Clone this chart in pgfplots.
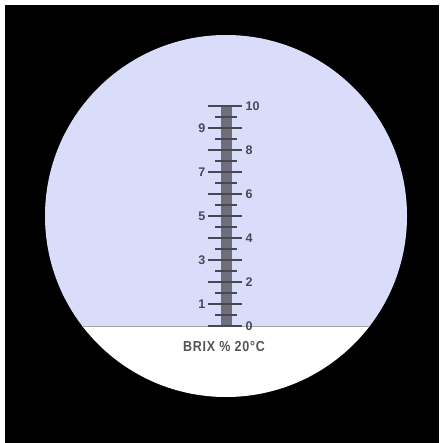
\documentclass[border=0pt]{standalone}
\usepackage{pgfplots}
\pgfplotsset{compat=1.18}
\usepackage{fontspec}
\setmainfont{Liberation Sans}
\definecolor{field}{RGB}{218,221,250}
\definecolor{scalegray}{RGB}{110,112,124}
\definecolor{tickgray}{RGB}{72,72,82}
\definecolor{txtgray}{RGB}{85,85,90}
\begin{document}
\begin{tikzpicture}
% background in pixel coordinates (1 unit = 1pt, y downwards)
\begin{axis}[
    scale only axis, width=439pt, height=443pt,
    xmin=0, xmax=439, ymin=0, ymax=443, y dir=reverse,
    hide axis, clip=false,
]
\fill[white] (axis cs:0,0) rectangle (axis cs:439,443);
\fill[black] (axis cs:5,5) rectangle (axis cs:439,443);
\begin{scope}
  \clip (axis cs:226,216) circle[radius=181pt];
  \fill[field] (axis cs:40,30) rectangle (axis cs:415,326);
  \fill[white] (axis cs:40,326) rectangle (axis cs:415,400);
  \draw[gray!70, line width=0.8pt] (axis cs:40,326) -- (axis cs:415,326);
\end{scope}
\node[txtgray, xscale=0.86, font=\bfseries\fontsize{14.5}{16}\selectfont\addfontfeature{LetterSpace=6}] at (axis cs:224,347) {BRIX \% 20°C};
\end{axis}
% the scale itself: 0 to 10 % Brix
\begin{axis}[
    at={(206pt,117pt)}, anchor=south west,
    scale only axis, width=40pt, height=220pt,
    xmin=-20, xmax=20, ymin=0, ymax=10,
    hide axis, clip=false,
]
\fill[scalegray] (axis cs:-5,0) rectangle (axis cs:6,10);
% fine divisions, 0.1
\addplot[only marks, mark=-, mark size=5.5pt, mark options={line width=0.5pt, color=tickgray!80}]
  table[x=x, y=v] {
x v
0.5 0.1
0.5 0.2
0.5 0.3
0.5 0.4
0.5 0.6
0.5 0.7
0.5 0.8
0.5 0.9
0.5 1.1
0.5 1.2
0.5 1.3
0.5 1.4
0.5 1.6
0.5 1.7
0.5 1.8
0.5 1.9
0.5 2.1
0.5 2.2
0.5 2.3
0.5 2.4
0.5 2.6
0.5 2.7
0.5 2.8
0.5 2.9
0.5 3.1
0.5 3.2
0.5 3.3
0.5 3.4
0.5 3.6
0.5 3.7
0.5 3.8
0.5 3.9
0.5 4.1
0.5 4.2
0.5 4.3
0.5 4.4
0.5 4.6
0.5 4.7
0.5 4.8
0.5 4.9
0.5 5.1
0.5 5.2
0.5 5.3
0.5 5.4
0.5 5.6
0.5 5.7
0.5 5.8
0.5 5.9
0.5 6.1
0.5 6.2
0.5 6.3
0.5 6.4
0.5 6.6
0.5 6.7
0.5 6.8
0.5 6.9
0.5 7.1
0.5 7.2
0.5 7.3
0.5 7.4
0.5 7.6
0.5 7.7
0.5 7.8
0.5 7.9
0.5 8.1
0.5 8.2
0.5 8.3
0.5 8.4
0.5 8.6
0.5 8.7
0.5 8.8
0.5 8.9
0.5 9.1
0.5 9.2
0.5 9.3
0.5 9.4
0.5 9.6
0.5 9.7
0.5 9.8
0.5 9.9
};
% half divisions
\addplot[only marks, mark=-, mark size=11pt, mark options={line width=1.3pt, color=tickgray}]
  coordinates {(0,0.5) (0,1.5) (0,2.5) (0,3.5) (0,4.5) (0,5.5) (0,6.5) (0,7.5) (0,8.5) (0,9.5)};
% whole divisions
\addplot[only marks, mark=-, mark size=17pt, mark options={line width=1.6pt, color=tickgray}]
  coordinates {(-1,0) (-1,1) (-1,2) (-1,3) (-1,4) (-1,5) (-1,6) (-1,7) (-1,8) (-1,9) (-1,10)};
\begin{scope}[every node/.style={tickgray, inner sep=1.5pt, font=\bfseries\fontsize{12.5}{14}\selectfont}]
\node[anchor=west] at (axis cs:18,0) {0};
\node[anchor=west] at (axis cs:18,2) {2};
\node[anchor=west] at (axis cs:18,4) {4};
\node[anchor=west] at (axis cs:18,6) {6};
\node[anchor=west] at (axis cs:18,8) {8};
\node[anchor=west] at (axis cs:18,10) {10};
\node[anchor=east] at (axis cs:-19,1) {1};
\node[anchor=east] at (axis cs:-19,3) {3};
\node[anchor=east] at (axis cs:-19,5) {5};
\node[anchor=east] at (axis cs:-19,7) {7};
\node[anchor=east] at (axis cs:-19,9) {9};
\end{scope}
\end{axis}
\pgfresetboundingbox
\path (0,0) rectangle (439pt,443pt);
\end{tikzpicture}
\end{document}
